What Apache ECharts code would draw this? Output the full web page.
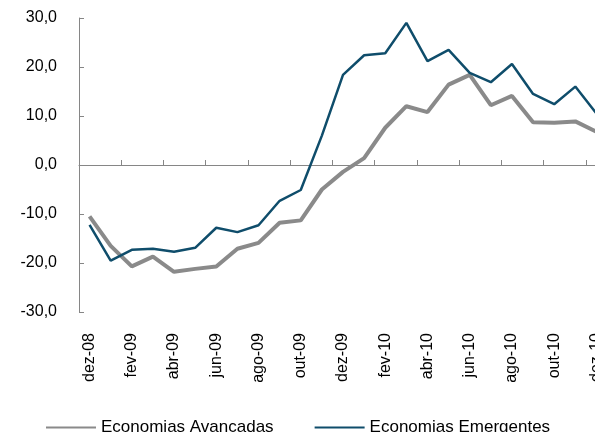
<!DOCTYPE html>
<html>
<head>
<meta charset="utf-8">
<script src="https://cdn.jsdelivr.net/npm/echarts@6/dist/echarts.min.js"></script>
<style>
  html, body { margin: 0; padding: 0; background: #fff; overflow: hidden; }
  /* o grafico original e cortado na direita, por isso o div passa da janela */
  #chart { width: 607px; height: 432px; }
</style>
</head>
<body>
<div id="chart"></div>
<script>
// meses dez-08 .. dez-10
const months = [
  'dez-08', 'jan-09', 'fev-09', 'mar-09', 'abr-09', 'mai-09', 'jun-09', 'jul-09',
  'ago-09', 'set-09', 'out-09', 'nov-09', 'dez-09', 'jan-10', 'fev-10', 'mar-10',
  'abr-10', 'mai-10', 'jun-10', 'jul-10', 'ago-10', 'set-10', 'out-10', 'nov-10', 'dez-10'
];

const avancadas = [
  -10.5, -16.5, -20.7, -18.7, -21.8, -21.2, -20.7, -17.1, -15.9, -11.8, -11.3, -5.0, -1.4,
  1.4, 7.6, 12.0, 10.8, 16.4, 18.4, 12.2, 14.1, 8.7, 8.6, 8.9, 6.8
];

const emergentes = [
  -12.2, -19.5, -17.3, -17.1, -17.7, -16.9, -12.8, -13.7, -12.3, -7.3, -5.1, 6.0, 18.4,
  22.4, 22.8, 29.0, 21.2, 23.5, 18.8, 16.9, 20.6, 14.5, 12.4, 16.0, 10.5
];

const yTicks = { min: -30, max: 30, interval: 10 };

const font = '"Liberation Sans", Arial, sans-serif';
const axisGray = '#868686';

const chart = echarts.init(document.getElementById('chart'), null, { renderer: 'canvas' });

chart.setOption({
  animation: false,
  backgroundColor: '#ffffff',
  grid: {
    left: 79,
    top: 18,
    right: 0,
    height: 294,
    containLabel: false
  },
  legend: {
    left: 40,
    top: 414,
    itemWidth: 50,
    itemHeight: 14,
    itemGap: 40,
    itemStyle: { opacity: 0 },
    textStyle: { fontFamily: font, fontSize: 17, color: '#000' },
    data: ['Economias Avancadas', 'Economias Emergentes']
  },
  xAxis: [
    {
      // linha do zero com os tracinhos
      type: 'category',
      data: months,
      boundaryGap: true,
      axisLine: { onZero: true, lineStyle: { color: axisGray, width: 1 } },
      axisTick: { show: true, inside: true, length: 5, interval: 1, lineStyle: { color: axisGray } },
      axisLabel: { show: false }
    },
    {
      // rotulos embaixo do grafico
      type: 'category',
      data: months,
      position: 'bottom',
      boundaryGap: true,
      axisLine: { show: false, onZero: false },
      axisTick: { show: false },
      axisLabel: {
        rotate: 90,
        interval: 1,
        margin: 21,
        fontFamily: font,
        fontSize: 16,
        color: '#000'
      }
    }
  ],
  yAxis: {
    type: 'value',
    min: yTicks.min,
    max: yTicks.max,
    interval: yTicks.interval,
    splitLine: { show: false },
    axisLine: { show: true, lineStyle: { color: axisGray, width: 1 } },
    axisTick: { show: true, inside: true, length: 5, lineStyle: { color: axisGray } },
    axisLabel: {
      margin: 22,
      fontFamily: font,
      fontSize: 16,
      color: '#000',
      formatter: v => v.toFixed(1).replace('.', ',')
    }
  },
  series: [
    {
      name: 'Economias Avancadas',
      type: 'line',
      data: avancadas,
      symbol: 'none',
      lineStyle: { color: '#8a8a8a', width: 4 },
      itemStyle: { color: '#8a8a8a' }
    },
    {
      name: 'Economias Emergentes',
      type: 'line',
      data: emergentes,
      symbol: 'none',
      lineStyle: { color: '#0f4d6b', width: 2.5 },
      itemStyle: { color: '#0f4d6b' }
    }
  ]
});
</script>
</body>
</html>
